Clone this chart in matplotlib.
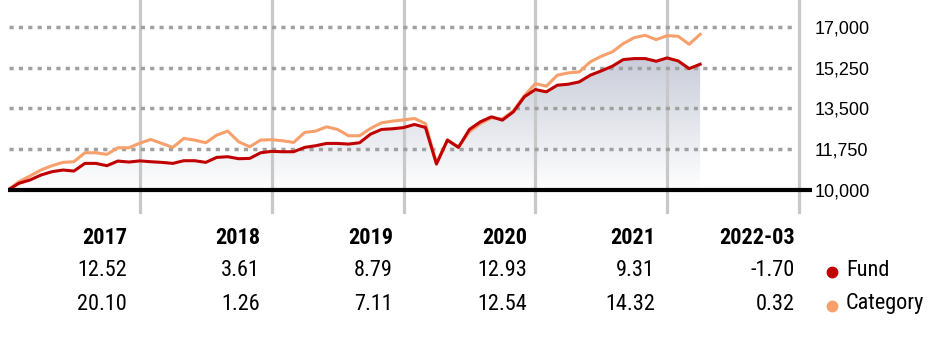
import numpy as np
import matplotlib
matplotlib.use("Agg")
import matplotlib.pyplot as plt
from matplotlib.colors import LinearSegmentedColormap

# growth of 10,000, monthly, Dec 2016 .. Mar 2022
fund = [10000, 10287, 10429, 10643, 10786, 10857, 10814, 11143, 11143, 11043, 11243, 11200, 11250,
        11214, 11186, 11143, 11257, 11257, 11186, 11400, 11429, 11343, 11357, 11600, 11660,
        11643, 11643, 11829, 11900, 12000, 12000, 11971, 12029, 12400, 12600, 12629, 12680,
        12814, 12686, 11114, 12143, 11829, 12600, 12929, 13143, 13000, 13357, 14000, 14314,
        14214, 14500, 14543, 14643, 14929, 15114, 15314, 15600, 15643, 15643, 15529, 15671,
        15543, 15214, 15400]
category = [10000, 10357, 10600, 10857, 11043, 11186, 11214, 11600, 11600, 11529, 11814, 11814, 12010,
            12171, 12000, 11829, 12214, 12143, 12029, 12357, 12529, 12071, 11857, 12143, 12160,
            12114, 12043, 12471, 12529, 12714, 12600, 12329, 12329, 12643, 12886, 12957, 13010,
            13071, 12850, 11150, 12150, 11850, 12500, 12850, 13100, 13050, 13400, 14050, 14570,
            14457, 14929, 15029, 15071, 15500, 15743, 15929, 16286, 16543, 16643, 16457, 16629,
            16600, 16257, 16686]

y_ticks = [10000, 11750, 13500, 15250, 17000]
years = ["2017", "2018", "2019", "2020", "2021", "2022-03"]
fund_ret = ["12.52", "3.61", "8.79", "12.93", "9.31", "-1.70"]
cat_ret = ["20.10", "1.26", "7.11", "12.54", "14.32", "0.32"]

FUND_C = "#c00000"
CAT_C = "#f7a06c"
NARROW = ["Roboto Condensed", "Archivo Narrow", "DejaVu Sans"]

W, H = 936, 338
fig = plt.figure(figsize=(W / 100, H / 100), dpi=100)
ax = fig.add_axes([8 / W, 1 - 212 / H, 791 / W, 212 / H])
ax.set_xlim(0, 72)
ax.set_ylim(9055, 18159)
for s in ax.spines.values():
    s.set_visible(False)

x = np.arange(len(fund))

# gradient fill under the fund line
cmap = LinearSegmentedColormap.from_list("g", ["#ffffff", "#c3c7d5"])
poly = ax.fill_between(x, 10000, fund, color="none", lw=0)
grad = np.linspace(0, 1, 256).reshape(-1, 1)
im = ax.imshow(grad, cmap=cmap, aspect="auto", origin="lower",
               extent=[0, 72, 10000, 16300], zorder=1)
im.set_clip_path(poly.get_paths()[0], transform=ax.transData)

# grid
for gx in range(12, 73, 12):
    ax.axvline(gx, color="#c8c8c8", lw=2.3, zorder=2, clip_on=False)
for gy in y_ticks[1:]:
    ax.plot([0.1, 71.6], [gy, gy], color="#a0a0a0", lw=2.5,
            ls=(0, (1.2, 1.5)), dash_capstyle="butt", zorder=2)
ax.plot([0, 73.2], [10000, 10000], color="black", lw=3.0, zorder=5,
        clip_on=False, solid_capstyle="butt")

ax.plot(x, category, color=CAT_C, lw=2.2, zorder=3, solid_joinstyle="round")
ax.plot(x, fund, color=FUND_C, lw=2.2, zorder=4, solid_joinstyle="round")

ax.set_xticks([])
ax.yaxis.tick_right()
ax.set_yticks(y_ticks)
ax.set_yticklabels([f"{v:,}" for v in y_ticks], family="Liberation Sans", fontsize=13)
ax.tick_params(axis="y", length=0, pad=11.5)

# annual returns table
col_right = [127, 260, 393, 527, 655, 795]


def ftext(px, py, s, **kw):
    fig.text(px / W, 1 - py / H, s, va="center", family=NARROW, fontsize=16, **kw)


for i, xr in enumerate(col_right):
    ftext(xr, 238, years[i], ha="right", weight="bold")
    ftext(xr, 271, fund_ret[i], ha="right")
    ftext(xr, 304, cat_ret[i], ha="right")

for py, c in [(272, FUND_C), (306, CAT_C)]:
    fig.lines.append(plt.Line2D([832 / W], [1 - py / H], marker="o", ms=7.5, lw=0,
                                color=c, transform=fig.transFigure))
ftext(846, 271, "Fund", ha="left")
ftext(846, 304, "Category", ha="left")

fig.savefig("out.png", dpi=100)
